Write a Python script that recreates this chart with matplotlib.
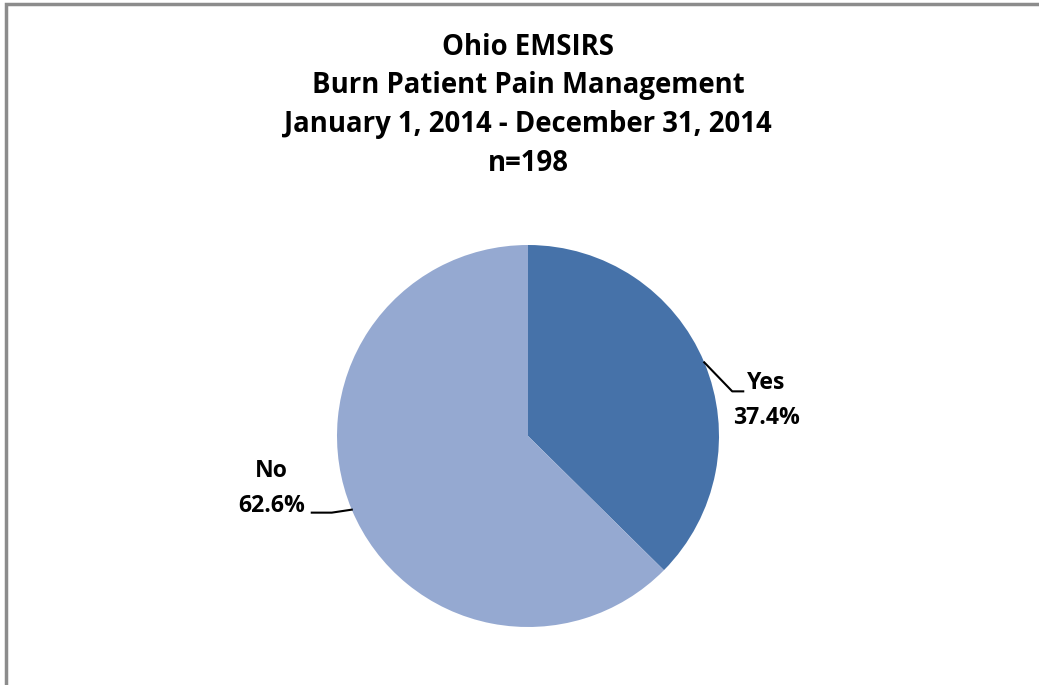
import numpy as np
import matplotlib.pyplot as plt

# data
labels = ['Yes', 'No']
shares = [37.4, 62.6]
colors = ['#4672A9', '#95A9D1']
title_lines = ['Ohio EMSIRS', 'Burn Patient Pain Management',
               'January 1, 2014 - December 31, 2014', 'n=198']

W, H = 1039, 685
fig = plt.figure(figsize=(W / 100, H / 100), dpi=100)
ax = fig.add_axes([0, 0, 1, 1])

cx, cy, r = 528, H - 436, 191
wedges, _ = ax.pie(shares, colors=colors, startangle=90, counterclock=False,
                   center=(cx, cy), radius=r, frame=True,
                   wedgeprops=dict(linewidth=0))
ax.set_xlim(0, W)
ax.set_ylim(0, H)
ax.set_aspect('equal')
ax.axis('off')

# chart frame (top and left edges visible)
ax.plot([6, 6, W + 5], [-5, H - 4, H - 4], color='#8c8c8c', lw=2.5,
        solid_joinstyle='miter', clip_on=False)

title_font = dict(family='Open Sans', weight='bold', fontsize=19.8)
for i, line in enumerate(title_lines):
    ax.text(cx, H - 47 - i * 38.8, line, ha='center', va='center', **title_font)

# labels with leader lines
label_font = dict(family='Open Sans', weight='bold', fontsize=16.6)
for w, lab, val in zip(wedges, labels, shares):
    ang = np.deg2rad((w.theta1 + w.theta2) / 2)
    ex, ey = cx + r * np.cos(ang), cy + r * np.sin(ang)
    side = np.sign(np.cos(ang))
    if side > 0:
        kx, ky = ex + 28, ey - 29
        tx, ty = kx + 11, ky
        ax.text(tx + 23, ty - 9, f'{lab}\n{val:.1f}%', ha='center', va='center',
                linespacing=1.6, **label_font)
    else:
        kx, ky = ex - 20, ey - 3
        tx, ty = kx - 20, ky
        ax.text(tx - 40, ty + 24, f'{lab}\n{val:.1f}%', ha='center', va='center',
                linespacing=1.6, **label_font)
    ax.plot([ex, kx, tx], [ey, ky, ty], color='black', lw=1.5)

fig.savefig('out.png', dpi=100)
